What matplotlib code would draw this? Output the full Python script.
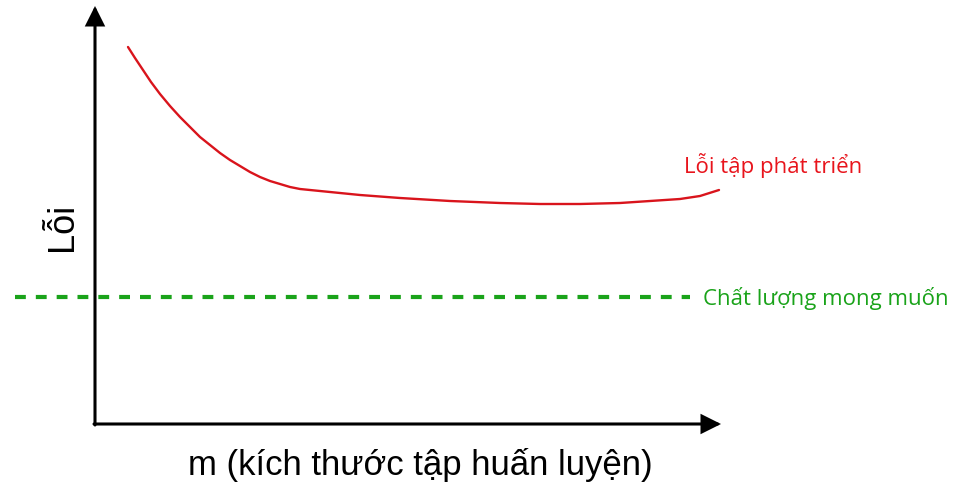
import matplotlib
matplotlib.use("Agg")
import matplotlib.pyplot as plt

# schematic learning curve, coordinates
train_size = [128, 135, 143, 151, 160, 170, 180, 190, 200, 210, 220, 230, 240,
              250, 260, 270, 280, 290, 300, 330, 360, 400, 450, 500, 540, 580,
              620, 650, 680, 700, 719]
dev_error = [437, 426, 414, 402, 390, 378, 367, 357, 347, 339, 331, 324, 318,
             312, 307, 303, 300, 297, 295, 292, 289, 286, 283, 281, 280, 280,
             281, 283, 285, 288, 294]

desired_level = 187
desired_span = [15, 690]

origin = (95, 60)
x_tip = 721
y_tip = 478

fig = plt.figure(figsize=(9.55, 4.85), dpi=100)
ax = fig.add_axes([0, 0, 1, 1])
ax.set_xlim(0, 955)
ax.set_ylim(0, 485)
ax.axis("off")

# axes with arrow heads
arrow = dict(arrowstyle="-|>", lw=2.2, color="black", mutation_scale=28,
             shrinkA=0, shrinkB=0, joinstyle="miter")
ax.annotate("", xy=(x_tip, origin[1]), xytext=(origin[0] - 1, origin[1]), arrowprops=arrow)
ax.annotate("", xy=(origin[0], y_tip), xytext=(origin[0], origin[1] - 1), arrowprops=arrow)

ax.plot(desired_span, [desired_level, desired_level], color="#1aa31a", lw=3,
        linestyle=(0, (2.6, 2.4)))
ax.plot(train_size, dev_error, color="#d9141c", lw=1.7, solid_capstyle="round",
        solid_joinstyle="round")

ax.text(684, 320, "Lỗi tập phát triển", color="#e8141c", fontsize=16,
        family="Open Sans", va="center", ha="left")
ax.text(703, 186, "Chất lượng mong muốn", color="#1aa31a", fontsize=16,
        family="Open Sans", va="center", ha="left")

ax.text(420, 20, "m (kích thước tập huấn luyện)", fontsize=25,
        family="Liberation Sans", ha="center", va="center")
ax.text(62, 258, "Lỗi", fontsize=26, family="Liberation Sans", rotation=90,
        ha="center", va="center")

fig.savefig("out.png", dpi=100)
